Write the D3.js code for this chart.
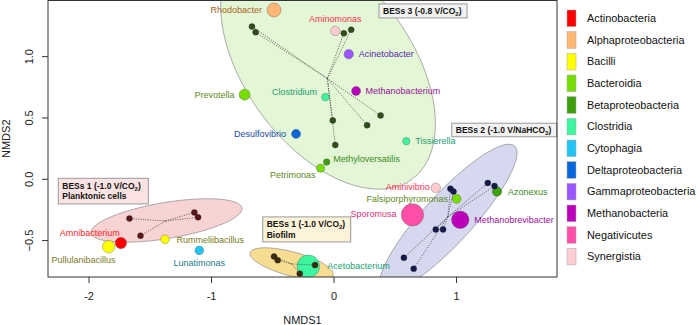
<!DOCTYPE html>
<html lang="en">
<head>
<meta charset="UTF-8">
<title>NMDS</title>
<script src="https://cdn.jsdelivr.net/npm/d3@7"></script>
<style>
  body { margin: 0; background: #fff; }
  svg { font-family: "Liberation Sans", Arial, sans-serif; }
</style>
</head>
<body>
<svg width="699" height="325"></svg>
<script>
// legend classes
const classes = ["Actinobacteria", "Alphaproteobacteria", "Bacilli", "Bacteroidia",
  "Betaproteobacteria", "Clostridia", "Cytophagia", "Deltaproteobacteria",
  "Gammaproteobacteria", "Methanobacteria", "Negativicutes", "Synergistia"];
const classFill = ["#ff0000", "#ffb574", "#ffff00", "#77dd00", "#3d9e0c", "#3ef5a0",
  "#22c5f2", "#0a66dd", "#9955ff", "#bb00bb", "#ff4fa8", "#ffccd2"];
const classText = ["#ff2020", "#a8641e", "#7a7a20", "#5a8a20", "#3a8a1a", "#20a070",
  "#1a7a8a", "#1a4aa0", "#5a2aaa", "#9a109a", "#e0307a", "#ff3050"];

// genera (species scores)
const taxa = ["Rhodobacter", "Aminomonas", "Acinetobacter", "Methanobacterium", "Clostridium",
  "Prevotella", "Desulfovibrio", "Methyloversatilis", "Petrimonas", "Tissierella",
  "Aminivibrio", "Falsiporphyromonas", "Azonexus", "Sporomusa", "Methanobrevibacter",
  "Amnibacterium", "Pullulanibacillus", "Rummeliibacillus", "Lunatimonas", "Acetobacterium"];
const taxaClass = ["Alphaproteobacteria", "Synergistia", "Gammaproteobacteria", "Methanobacteria", "Clostridia",
  "Bacteroidia", "Deltaproteobacteria", "Betaproteobacteria", "Bacteroidia", "Clostridia",
  "Synergistia", "Bacteroidia", "Betaproteobacteria", "Negativicutes", "Methanobacteria",
  "Actinobacteria", "Bacilli", "Bacilli", "Cytophagia", "Clostridia"];
const taxaX = [-0.49, 0.01, 0.12, 0.18, -0.07, -0.73, -0.31, -0.06, -0.11, 0.59,
  0.83, 1.00, 1.33, 0.64, 1.03, -1.74, -1.84, -1.38, -1.10, -0.21];
const taxaY = [1.38, 1.21, 1.02, 0.72, 0.67, 0.69, 0.37, 0.14, 0.09, 0.31,
  -0.07, -0.16, -0.10, -0.29, -0.33, -0.52, -0.55, -0.49, -0.58, -0.71];
const taxaAbund = [5.4, 2.5, 2.5, 2.3, 1.6, 3.4, 2.3, 1.2, 1.8, 1.5,
  2.5, 2.3, 2.5, 13.9, 8.6, 3.6, 4.3, 2.1, 2.1, 14.2];

// site scores per reactor
const groups = ["BESs 3", "BESs 2", "BESs 1 planktonic", "BESs 1 biofilm"];
const bes3X = [-0.67, -0.64, 0.08, 0.14, 0.38, -0.01, 0.27, 0.01];
const bes3Y = [1.245, 1.20, 1.19, 1.22, 0.52, 0.48, 0.44, 0.28];
const bes2X = [0.95, 0.975, 1.255, 1.31, 0.83, 0.89, 0.57, 0.65];
const bes2Y = [-0.077, -0.10, -0.03, -0.055, -0.41, -0.41, -0.64, -0.73];
const planktonX = [-1.67, -1.14, -1.11, -1.58];
const planktonY = [-0.32, -0.27, -0.31, -0.46];
const biofilmX = [-0.49, -0.46, -0.155, -0.28];
const biofilmY = [-0.63, -0.66, -0.70, -0.77];

// ellipses: centre, semi axes, angle (deg)
const ellCx = [-0.049, 0.931, -1.367, -0.346];
const ellCy = [0.932, -0.32, -0.336, -0.69];
const ellA = [1.156, 0.802, 0.624, 0.351];
const ellB = [0.676, 0.200, 0.147, 0.098];
const ellAngle = [-53.5, 47.4, 9.4, -15];

const xTicks = [-2, -1, 0, 1];
const yTicks = [-0.5, 0, 0.5, 1];

// ----- layout -----
const groupFill = ["#e3f6d5", "#d6d8f0", "#f7d3d3", "#f7dd92"];
const groupDot = ["#2f4f1a", "#161a4a", "#5a1616", "#3e2a0c"];
const labelPos = [["end", -12, 0], ["middle", 0, -12.5], ["start", 10, 0], ["start", 9.5, 0],
  ["end", -8.5, -5.5], ["end", -10, 0], ["end", -10, 0], ["start", 6.5, -3], ["end", -5, 7],
  ["start", 9, 0], ["end", -6, -1.5], ["end", -8.5, 0], ["start", 11, 0], ["end", -16, -1],
  ["start", 14, 0.5], ["end", -1, -10], ["end", 7, 13], ["start", 11.5, 0.5],
  ["middle", 0, 12.5], ["start", 19, 0]];

const L = 48, R = 557, T = 0.5, B = 277;
const x = d3.scaleLinear().domain([-2.335, 1.82]).range([L, R]);
const y = d3.scaleLinear().domain([-0.797, 1.458]).range([B, T]);
const rScale = d3.scaleSqrt().domain([0, 16]).range([0, 12]);
const color = d3.scaleOrdinal().domain(classes).range(classFill);
const tcolor = d3.scaleOrdinal().domain(classes).range(classText);

const svg = d3.select("svg");
svg.append("clipPath").attr("id", "plot")
  .append("rect").attr("x", L).attr("y", T).attr("width", R - L).attr("height", B - T);
const g = svg.append("g").attr("clip-path", "url(#plot)");

const groupX = [bes3X, bes2X, planktonX, biofilmX];
const groupY = [bes3Y, bes2Y, planktonY, biofilmY];

// ellipses
const line = d3.line().x(d => x(d[0])).y(d => y(d[1])).curve(d3.curveLinearClosed);
groups.forEach((name, i) => {
  const th = ellAngle[i] * Math.PI / 180;
  const pts = d3.range(0, 360, 3).map(a => {
    const t = a * Math.PI / 180;
    return [ellCx[i] + ellA[i] * Math.cos(t) * Math.cos(th) - ellB[i] * Math.sin(t) * Math.sin(th),
            ellCy[i] + ellA[i] * Math.cos(t) * Math.sin(th) + ellB[i] * Math.sin(t) * Math.cos(th)];
  });
  g.append("path").attr("d", line(pts))
    .attr("fill", groupFill[i]).attr("stroke", "#8a8a8a").attr("stroke-width", 0.7);
});

// genera points
const taxaData = taxa.map((t, i) => ({name: t, cls: taxaClass[i], x: taxaX[i], y: taxaY[i], ab: taxaAbund[i], pos: labelPos[i]}));
g.selectAll("circle.taxa").data(taxaData).join("circle")
  .attr("class", "taxa")
  .attr("cx", d => x(d.x)).attr("cy", d => y(d.y)).attr("r", d => rScale(d.ab))
  .attr("fill", d => color(d.cls)).attr("stroke", "#555").attr("stroke-opacity", 0.6).attr("stroke-width", 0.6);

// spiders + site points
groups.forEach((name, i) => {
  const cx = d3.mean(groupX[i]), cy = d3.mean(groupY[i]);
  groupX[i].forEach((vx, j) => {
    g.append("line").attr("x1", x(cx)).attr("y1", y(cy)).attr("x2", x(vx)).attr("y2", y(groupY[i][j]))
      .attr("stroke", "#444").attr("stroke-width", 0.7).attr("stroke-dasharray", "1.2,1.2");
  });
  g.selectAll(null).data(groupX[i]).join("circle")
    .attr("cx", d => x(d)).attr("cy", (d, j) => y(groupY[i][j])).attr("r", 3)
    .attr("fill", groupDot[i]).attr("stroke", "#111").attr("stroke-width", 0.3);
});

// labels
svg.selectAll("text.lab").data(taxaData).join("text")
  .attr("class", "lab")
  .attr("x", d => x(d.x) + d.pos[1]).attr("y", d => y(d.y) + d.pos[2])
  .attr("dy", "0.35em").attr("text-anchor", d => d.pos[0])
  .attr("font-size", 9).attr("fill", d => tcolor(d.cls))
  .text(d => d.name);

// annotation boxes
const notes = [
  {x0: 0.367, x1: 1.086, y0: 1.430, y1: 1.316, fill: "#f2f2f2", lines: [["BESs 3 (-0.8 V/CO", "2", ")"]]},
  {x0: 0.961, x1: 1.818, y0: 0.457, y1: 0.347, fill: "#f2f2f2", lines: [["BESs 2 (-1.0 V/NaHCO", "3", ")"]]},
  {x0: -2.251, x1: -1.516, y0: 0.008, y1: -0.201, fill: "#fbe3e3", lines: [["BESs 1 (-1.0 V/CO", "2", ")"], ["Planktonic cells"]]},
  {x0: -0.582, x1: 0.136, y0: -0.307, y1: -0.511, fill: "#fdf3d8", lines: [["BESs 1 (-1.0 V/CO", "2", ")"], ["Biofilm"]]}
];
notes.forEach(n => {
  const bx = x(n.x0), by = y(n.y0), bw = x(n.x1) - x(n.x0), bh = y(n.y1) - y(n.y0);
  svg.append("rect").attr("x", bx).attr("y", by).attr("width", bw).attr("height", bh)
    .attr("fill", n.fill).attr("stroke", "#999").attr("stroke-width", 1);
  const lh = 10.7;
  const top = by + bh / 2 - (n.lines.length - 1) * lh / 2;
  n.lines.forEach((ln, k) => {
    const t = svg.append("text").attr("x", bx + 4).attr("y", top + k * lh).attr("dy", "0.35em")
      .attr("font-size", 8.5).attr("font-weight", "bold").attr("fill", "#111");
    t.append("tspan").text(ln[0]);
    if (ln[1]) {
      t.append("tspan").attr("font-size", 6).attr("dy", 2).text(ln[1]);
      t.append("tspan").attr("dy", -2).text(ln[2]);
    }
  });
});

// frame + axes
svg.append("rect").attr("x", L).attr("y", T).attr("width", R - L).attr("height", B - T)
  .attr("fill", "none").attr("stroke", "#333").attr("stroke-width", 1);
const ax = svg.append("g").attr("font-size", 11).attr("fill", "#222");
xTicks.forEach(v => {
  ax.append("line").attr("x1", x(v)).attr("x2", x(v)).attr("y1", B).attr("y2", B + 6).attr("stroke", "#333");
  ax.append("text").attr("x", x(v)).attr("y", 296).attr("dy", "0.35em").attr("text-anchor", "middle").text(v);
});
yTicks.forEach(v => {
  ax.append("line").attr("x1", L - 6).attr("x2", L).attr("y1", y(v)).attr("y2", y(v)).attr("stroke", "#333");
  ax.append("text").attr("transform", `translate(29.5,${y(v)}) rotate(-90)`).attr("dy", "0.35em")
    .attr("text-anchor", "middle").text(d3.format(".1f")(v));
});
ax.append("text").attr("x", (L + R) / 2).attr("y", 320).attr("dy", "0.35em").attr("text-anchor", "middle").text("NMDS1");
ax.append("text").attr("transform", `translate(6,${(T + B) / 2}) rotate(-90)`).attr("dy", "0.35em")
  .attr("text-anchor", "middle").text("NMDS2");

// legend
const leg = svg.append("g");
classes.forEach((c, i) => {
  const cy = 18.3 + i * 21.67;
  leg.append("rect").attr("x", 567).attr("y", cy - 8.3).attr("width", 9).attr("height", 16.6)
    .attr("fill", classFill[i]).attr("stroke", "#aaa").attr("stroke-width", 0.5);
  leg.append("text").attr("x", 587).attr("y", cy).attr("dy", "0.35em").attr("font-size", 10.9)
    .attr("fill", "#111").text(c);
});
</script>
</body>
</html>
